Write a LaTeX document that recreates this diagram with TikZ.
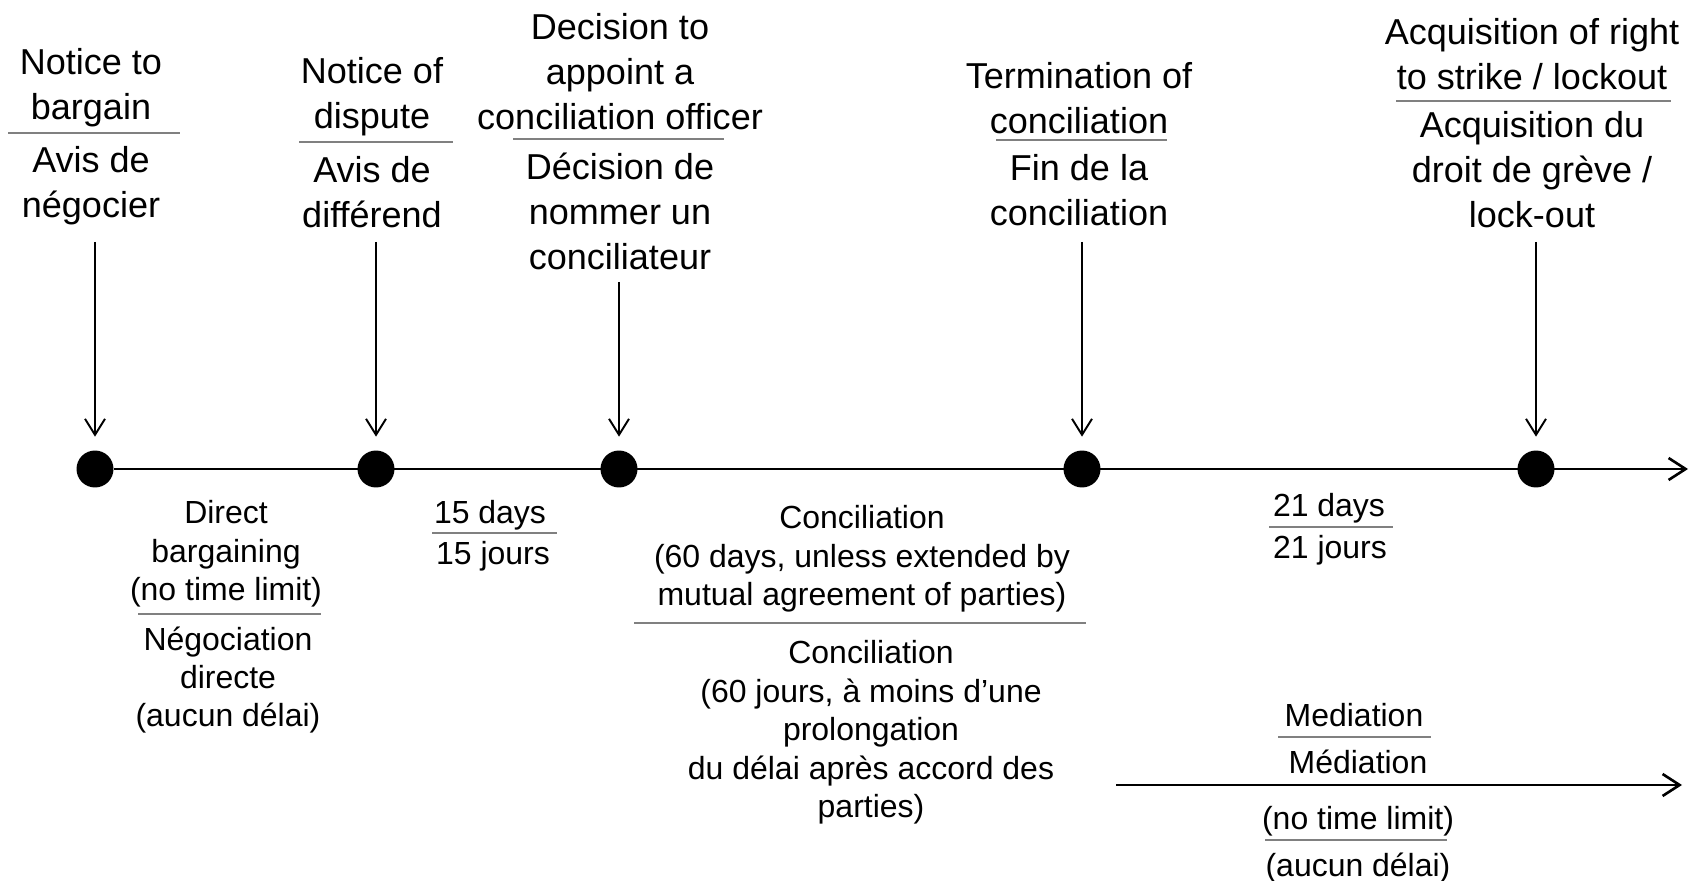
\documentclass[tikz,border=0pt]{standalone}
\usepackage{fontspec}
\setmainfont{Liberation Sans}
\usetikzlibrary{arrows.meta}

\tikzset{
  toplbl/.style={align=center, inner sep=0pt, outer sep=0pt, anchor=north,
    font=\fontsize{20.5pt}{25.6pt}\selectfont, execute at begin node=\rule{0pt}{17.9pt}},
  lowlbl/.style={align=center, inner sep=0pt, outer sep=0pt, anchor=north,
    font=\fontsize{18.2pt}{21.9pt}\selectfont, execute at begin node=\rule{0pt}{15.3pt}},
  evdot/.style={circle, fill=black, inner sep=0pt, minimum size=0.74cm},
  evarrow/.style={-{Straight Barb[length=0.32cm,width=0.4cm]}, line width=1.1pt, shorten >=0.27cm},
  tline/.style={-{Straight Barb[length=0.34cm,width=0.44cm]}, line width=1.5pt},
  sepline/.style={draw=black!50, line width=0.9pt},
}

\begin{document}
\begin{tikzpicture}[x=0.02cm, y=-0.02cm]
 \useasboundingbox (0,0) rectangle (1691,881);

 % time line
 \foreach \i/\x in {1/95, 2/376, 3/619, 4/1082, 5/1536}
   \node[evdot] (d\i) at (\x,469) {};
 \coordinate (tend) at (1688,469);
 \draw[tline] (d1) -- (tend);

 % events
 \node[toplbl] (bargain) at (91,48) {Notice to\\bargain};
 \node[toplbl] (bargainfr) at (91,146) {Avis de\\négocier};
 \node[toplbl] (dispute) at (372,57) {Notice of\\dispute};
 \node[toplbl] (disputefr) at (372,156) {Avis de\\différend};
 \node[toplbl] (appoint) at (620,13) {Decision to\\appoint a\\conciliation officer};
 \node[toplbl] (appointfr) at (620,153) {Décision de\\nommer un\\conciliateur};
 \node[toplbl] (termin) at (1079,62) {Termination of\\conciliation};
 \node[toplbl] (terminfr) at (1079,154) {Fin de la\\conciliation};
 \node[toplbl] (strike) at (1532,18) {Acquisition of right\\to strike / lockout};
 \node[toplbl] (strikefr) at (1532,111) {Acquisition du\\droit de grève /\\lock-out};

 % arrows down
 \foreach \i/\x/\y in {1/95/242, 2/376/242, 3/619/282, 4/1082/242, 5/1536/242} {
   \coordinate (s\i) at (\x,\y);
   \draw[evarrow] (s\i) -- (d\i);
 }

 % periods
 \node[lowlbl] (direct) at (226,500.5) {Direct\\bargaining\\(no time limit)};
 \node[lowlbl] (directfr) at (228,626.5) {Négociation\\directe\\(aucun délai)};
 \node[lowlbl] (fifteen) at (490,497) {15 days};
 \node[lowlbl] (fifteenfr) at (493,538) {15 jours};
 \node[lowlbl] (concil) at (862,505.5) {Conciliation\\(60 days, unless extended by\\mutual agreement of parties)};
 \node[lowlbl] (concilfr) at (871,640.5) {Conciliation\\(60 jours, à moins d’une\\prolongation\\du délai après accord des\\parties)};
 \node[lowlbl] (twentyone) at (1329,490) {21 days};
 \node[lowlbl] (twentyonefr) at (1330,532) {21 jours};

 % mediation
 \node[lowlbl] (media) at (1354,700) {Mediation};
 \node[lowlbl] (mediafr) at (1358,747) {Médiation};
 \coordinate (m0) at (1116,785);
 \coordinate (m1) at (1682,785);
 \draw[tline] (m0) -- (m1);
 \node[lowlbl] (nolimit) at (1358,803) {(no time limit)};
 \node[lowlbl] (nolimitfr) at (1358,850) {(aucun délai)};

 % separators
 \foreach \xa/\xb/\y in {8/180/133, 299/453/142, 513/724/139, 996/1167/140, 1396/1671/101,
     138/321/614, 432/557/533, 634/1086/623, 1269/1393/527, 1278/1431/737, 1265/1447/840}
   \draw[sepline] (\xa,\y) -- (\xb,\y);

\end{tikzpicture}
\end{document}
